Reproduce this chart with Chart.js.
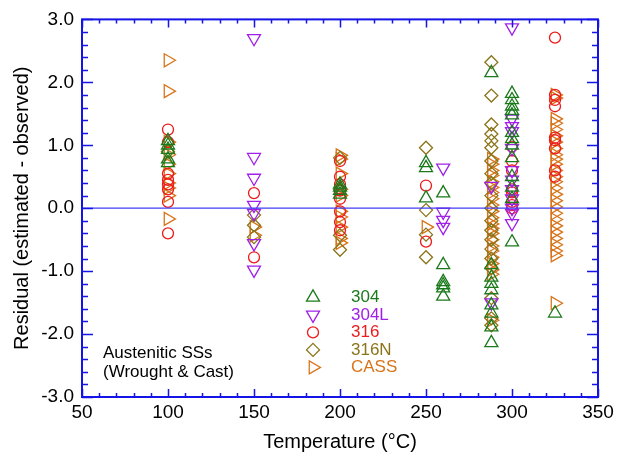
<!DOCTYPE html>
<html>
<head>
<meta charset="utf-8">
<script src="https://cdn.jsdelivr.net/npm/chart.js@4.4.1/dist/chart.umd.min.js"></script>
<style>
  html, body { margin: 0; padding: 0; background: #fff; }
  #wrap { width: 622px; height: 454px; }
</style>
</head>
<body>
<div id="wrap"><canvas id="residualChart" width="622" height="454"></canvas></div>
<script>
// Residus par temperature : [temperature, [residus...]]
const s304 = [
    [100, [1.07, 1.0, 0.93, 0.78, 0.72]],
    [200, [0.38, 0.33, 0.28, 0.22]],
    [250, [0.72, 0.64, 0.16]],
    [260, [0.24, -0.9, -1.17, -1.22, -1.27, -1.4]],
    [288, [2.15, -0.9, -1.1, -1.2, -1.3, -1.54, -1.67, -1.89, -2.14]],
    [300, [1.82, 1.72, 1.62, 1.55, 1.48, 1.2, 1.1, 1.0, 0.8, 0.5, 0.33, 0.15, -0.54]],
    [325, [-1.67]]
];
const s304L = [
    [150, [2.7, 0.81, 0.48, 0.05, -0.08, -0.56, -0.98]],
    [260, [0.64, -0.06, -0.19, -0.3]],
    [288, [0.35, -1.5]],
    [300, [2.87, 1.42, 1.3, 1.22, 0.95, 0.6, 0.45, 0.3, 0.15, 0.0, -0.08, -0.24]]
];
const s316 = [
    [100, [1.25, 1.05, 0.55, 0.45, 0.38, 0.3, 0.1, -0.4]],
    [150, [0.24, -0.78]],
    [200, [0.75, 0.5, 0.38, 0.28, 0.15, -0.05, -0.22, -0.35]],
    [250, [0.36, -0.53]],
    [300, [0.98, 0.75, 0.6, 0.3, 0.25, 0.1, 0.05, 0.0]],
    [325, [2.71, 1.8, 1.72, 1.62, 1.12, 1.08, 0.95, 0.6, 0.5]]
];
const s316N = [
    [100, [0.9]],
    [150, [-0.11, -0.27, -0.46]],
    [200, [0.8, 0.3, -0.43, -0.66]],
    [250, [0.96, -0.03, -0.42, -0.78]],
    [288, [2.32, 1.79, 1.33, 1.18, 1.07, 0.96, 0.75, 0.55, 0.4, 0.2, 0.0, -0.2, -0.35,
           -0.5, -0.65, -0.8, -0.95, -1.43, -1.75, -1.86]]
];
const sCASS = [
    [100, [2.35, 1.86, 1.05, 0.85, 0.7, 0.55, 0.4, 0.32, 0.2, -0.17]],
    [150, [-0.3, -0.43]],
    [200, [0.84, 0.78, 0.55, 0.3, 0.2, -0.05, -0.14, -0.3, -0.48, -0.55]],
    [250, [-0.3]],
    [288, [0.78, 0.7, 0.6, 0.52, 0.42, 0.33, 0.25, 0.15, 0.05, -0.05, -0.15, -0.25, -0.32,
           -0.4, -0.5, -0.6, -0.68, -0.78, -0.88, -0.98, -1.05, -1.78]],
    [325, [1.8, 1.75, 1.42, 1.35, 1.25, 1.15, 1.05, 0.95, 0.85, 0.78, 0.7, 0.6, 0.5, 0.42,
           0.32, 0.22, 0.12, 0.02, -0.08, -0.18, -0.28, -0.38, -0.48, -0.58, -0.68, -0.75, -1.51]]
];

const seriesNames = ['304', '304L', '316', '316N', 'CASS'];
const xTicks = [50, 100, 150, 200, 250, 300, 350];
const yTicks = [-3, -2, -1, 0, 1, 2, 3];

// --------------------------------------------------------------------------

const AXIS_BLUE = '#1414e6';
const FONT = '"Liberation Sans", Arial, sans-serif';

const toPoints = groups => groups.flatMap(([t, vals]) => vals.map(v => ({ x: t, y: v })));

const styles = [
    { color: '#1b7a1b', pointStyle: 'triangle', rotation: 0, radius: 7.5 },
    { color: '#a020e8', pointStyle: 'triangle', rotation: 180, radius: 7.5 },
    { color: '#ec1c1c', pointStyle: 'circle', rotation: 0, radius: 5.5 },
    { color: '#8a7418', pointStyle: 'rectRot', rotation: 0, radius: 6.5 },
    { color: '#d8741a', pointStyle: 'triangle', rotation: 90, radius: 7.5 }
];

const allSeries = [s304, s304L, s316, s316N, sCASS];

const datasets = allSeries.map((s, i) => ({
    label: seriesNames[i],
    data: toPoints(s),
    showLine: false,
    borderColor: styles[i].color,
    backgroundColor: 'rgba(0,0,0,0)',
    pointStyle: styles[i].pointStyle,
    rotation: styles[i].rotation,
    pointRadius: styles[i].radius,
    pointBorderWidth: 1.3,
    pointHoverRadius: styles[i].radius
}));

// ligne zero
datasets.unshift({
    label: 'zero',
    data: [{ x: 50, y: 0 }, { x: 350, y: 0 }],
    showLine: true,
    borderColor: '#4040f5',
    borderWidth: 1.2,
    pointRadius: 0
});

// --------------------------------------------------------------------------

// Cadre + graduations vers l'interieur
const framePlugin = {
    id: 'frame',
    afterDatasetsDraw(chart) {
        const { ctx, chartArea: a, scales: { x, y } } = chart;
        ctx.save();
        ctx.strokeStyle = AXIS_BLUE;
        ctx.lineWidth = 1.5;
        for (let v = 50; v <= 350; v += 10) {
            const px = Math.round(x.getPixelForValue(v)) + 0.5;
            const len = v % 50 === 0 ? 8 : 4;
            ctx.beginPath();
            ctx.moveTo(px, a.bottom); ctx.lineTo(px, a.bottom - len);
            ctx.moveTo(px, a.top); ctx.lineTo(px, a.top + len);
            ctx.stroke();
        }
        for (let k = -15; k <= 15; k++) {
            const v = k / 5;
            const py = Math.round(y.getPixelForValue(v)) + 0.5;
            const len = k % 5 === 0 ? 11 : 6;
            ctx.beginPath();
            ctx.moveTo(a.left, py); ctx.lineTo(a.left + len, py);
            ctx.moveTo(a.right, py); ctx.lineTo(a.right - len, py);
            ctx.stroke();
        }
        ctx.lineWidth = 2;
        ctx.strokeRect(a.left, a.top, a.right - a.left, a.bottom - a.top);
        ctx.restore();
    }
};

// Legende et annotation dans le graphique
const legendPlugin = {
    id: 'innerLegend',
    afterDraw(chart) {
        const { ctx, chartArea: a } = chart;
        ctx.save();
        ctx.font = `17px ${FONT}`;
        ctx.textBaseline = 'middle';
        seriesNames.forEach((name, i) => {
            const yy = a.top + 278 + i * 17.5;
            const mx = a.left + 231;
            ctx.strokeStyle = styles[i].color;
            ctx.fillStyle = 'rgba(0,0,0,0)';
            ctx.lineWidth = 1.3;
            Chart.helpers.drawPoint(ctx, {
                pointStyle: styles[i].pointStyle,
                rotation: styles[i].rotation,
                radius: styles[i].radius,
                borderWidth: 1.3
            }, mx, yy);
            ctx.fillStyle = styles[i].color;
            ctx.fillText(name, a.left + 269, yy);
        });
        ctx.fillStyle = '#000';
        ctx.fillText('Austenitic SSs', a.left + 21, a.top + 334);
        ctx.fillText('(Wrought & Cast)', a.left + 21, a.top + 353);
        ctx.restore();
    }
};

// --------------------------------------------------------------------------

new Chart(document.getElementById('residualChart').getContext('2d'), {
    type: 'scatter',
    data: { datasets },
    options: {
        responsive: false,
        animation: false,
        events: [],
        layout: { padding: { top: 19, right: 24, left: 0, bottom: 0 } },
        plugins: {
            legend: { display: false },
            tooltip: { enabled: false }
        },
        scales: {
            x: {
                type: 'linear',
                min: 50,
                max: 350,
                afterBuildTicks: s => { s.ticks = xTicks.map(v => ({ value: v })); },
                afterFit: s => { s.height = 57; },
                grid: { display: false, drawTicks: false },
                border: { display: false },
                ticks: {
                    color: '#000',
                    font: { family: FONT, size: 19 },
                    padding: 4,
                    maxRotation: 0
                },
                title: {
                    display: true,
                    text: 'Temperature (°C)',
                    color: '#000',
                    font: { family: FONT, size: 20 },
                    padding: { top: 2, bottom: 0 }
                }
            },
            y: {
                type: 'linear',
                min: -3,
                max: 3,
                afterBuildTicks: s => { s.ticks = yTicks.map(v => ({ value: v })); },
                afterFit: s => { s.width = 82; },
                grid: { display: false, drawTicks: false },
                border: { display: false },
                ticks: {
                    color: '#000',
                    font: { family: FONT, size: 19 },
                    padding: 8,
                    callback: v => v.toFixed(1)
                },
                title: {
                    display: true,
                    text: 'Residual (estimated - observed)',
                    color: '#000',
                    font: { family: FONT, size: 20 },
                    padding: { top: 10, bottom: 4 }
                }
            }
        }
    },
    plugins: [framePlugin, legendPlugin]
});
</script>
</body>
</html>
